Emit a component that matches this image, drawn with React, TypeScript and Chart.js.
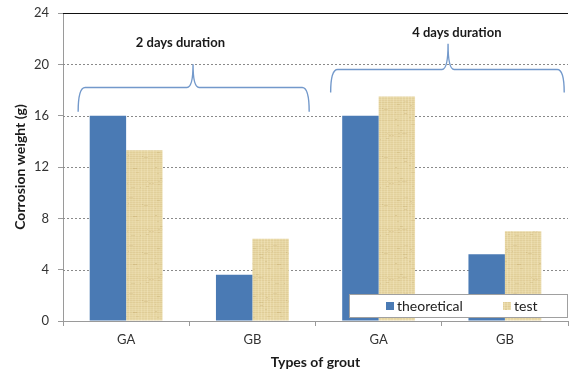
import React, { useEffect, useRef } from "react";
import { Chart, registerables } from "chart.js";

Chart.register(...registerables);

const categories = ["GA", "GB", "GA", "GB"];
const theoretical = [16, 3.6, 16, 5.2];
const test = [13.3, 6.4, 17.5, 7.0];
const seriesNames = ["theoretical", "test"];
const durationLabels = ["2 days duration", "4 days duration"];

const BLUE = "#4a7ab4";
const FONT = "Lato, 'Open Sans', sans-serif";

// Papyrus-like tan texture for the "test" bars
function makeTexture(ctx: CanvasRenderingContext2D): CanvasPattern | string {
  const c = document.createElement("canvas");
  c.width = 48;
  c.height = 48;
  const g = c.getContext("2d");
  if (!g) return "#e6d6a2";
  g.fillStyle = "#e8d8a6";
  g.fillRect(0, 0, 48, 48);
  let s = 7;
  const next = () => {
    s = (s * 1103515245 + 12345) % 2147483648;
    return s / 2147483648;
  };
  for (let y = 0; y < 48; y += 2) {
    g.fillStyle = `rgba(190,160,90,${0.08 + next() * 0.12})`;
    g.fillRect(0, y, 48, 1);
  }
  for (let x = 0; x < 48; x += 3) {
    g.fillStyle = `rgba(255,245,215,${0.1 + next() * 0.2})`;
    g.fillRect(x, 0, 1, 48);
  }
  for (let i = 0; i < 30; i++) {
    g.fillStyle = `rgba(175,145,80,${0.1 + next() * 0.15})`;
    g.fillRect(Math.floor(next() * 48), Math.floor(next() * 48), 1 + Math.floor(next() * 4), 1);
  }
  return ctx.createPattern(c, "repeat") || "#e6d6a2";
}

const overlayPlugin = {
  id: "overlay",
  beforeDatasetsDraw(chart: any) {
    const { ctx, chartArea } = chart;
    const y = chart.scales.y;
    ctx.save();
    // dashed horizontal grid
    ctx.strokeStyle = "#8a8a8a";
    ctx.lineWidth = 1;
    ctx.setLineDash([2, 2]);
    for (let v = 4; v < 24; v += 4) {
      const py = Math.round(y.getPixelForValue(v)) + 0.5;
      ctx.beginPath();
      ctx.moveTo(chartArea.left, py);
      ctx.lineTo(chartArea.right, py);
      ctx.stroke();
    }
    ctx.setLineDash([]);
    // solid top line
    const top = Math.round(y.getPixelForValue(24)) + 0.5;
    ctx.strokeStyle = "#111";
    ctx.beginPath();
    ctx.moveTo(chartArea.left, top);
    ctx.lineTo(chartArea.right, top);
    ctx.stroke();
    ctx.restore();
  },
  afterDatasetsDraw(chart: any) {
    const { ctx, chartArea } = chart;
    const x = chart.scales.x;
    const y = chart.scales.y;
    ctx.save();

    // braces grouping the two durations
    const braces = [
      { from: -0.38, to: 1.45, peak: 0.53, foot: 16.3, bar: 18.2, tip: 20.0 },
      { from: 1.62, to: 3.47, peak: 2.55, foot: 17.8, bar: 19.6, tip: 21.6 },
    ];
    ctx.strokeStyle = "#7399cb";
    ctx.lineWidth = 1.4;
    for (const b of braces) {
      const x0 = x.getPixelForValue(b.from);
      const x1 = x.getPixelForValue(b.to);
      const xm = x.getPixelForValue(b.peak);
      const yf = y.getPixelForValue(b.foot);
      const yb = y.getPixelForValue(b.bar);
      const yt = y.getPixelForValue(b.tip);
      ctx.beginPath();
      ctx.moveTo(x0, yf);
      ctx.quadraticCurveTo(x0, yb, x0 + 7, yb);
      ctx.lineTo(xm - 6, yb);
      ctx.quadraticCurveTo(xm, yb, xm, yt);
      ctx.quadraticCurveTo(xm, yb, xm + 6, yb);
      ctx.lineTo(x1 - 7, yb);
      ctx.quadraticCurveTo(x1, yb, x1, yf);
      ctx.stroke();
    }

    // duration captions
    ctx.fillStyle = "#1a1a1a";
    ctx.font = `bold 13px ${FONT}`;
    ctx.textAlign = "center";
    ctx.textBaseline = "middle";
    ctx.fillText(durationLabels[0], x.getPixelForValue(0.43), y.getPixelForValue(21.7));
    ctx.fillText(durationLabels[1], x.getPixelForValue(2.62), y.getPixelForValue(22.45));

    // legend box in the lower right of the plot
    const lx = chartArea.left + 286;
    const ly = chartArea.bottom - 27;
    const lw = 218;
    const lh = 23;
    ctx.fillStyle = "#fff";
    ctx.fillRect(lx, ly, lw, lh);
    ctx.strokeStyle = "#a0a0a0";
    ctx.lineWidth = 1;
    ctx.strokeRect(Math.round(lx) + 0.5, Math.round(ly) + 0.5, lw, lh);
    const ds = chart.data.datasets;
    const items = [
      { x: lx + 37, fill: ds[0].backgroundColor, text: seriesNames[0] },
      { x: lx + 154, fill: ds[1].backgroundColor, text: seriesNames[1] },
    ];
    ctx.font = `14px ${FONT}`;
    ctx.textAlign = "left";
    for (const it of items) {
      ctx.fillStyle = it.fill;
      ctx.fillRect(it.x, ly + 8, 8, 8);
      ctx.fillStyle = "#222";
      ctx.fillText(it.text, it.x + 11, ly + 12);
    }
    ctx.restore();
  },
};

export default function App() {
  const ref = useRef<HTMLCanvasElement>(null);

  useEffect(() => {
    const canvas = ref.current;
    if (!canvas) return;
    const ctx = canvas.getContext("2d")!;
    const texture = makeTexture(ctx);

    const chart = new Chart(canvas, {
      type: "bar",
      data: {
        labels: categories,
        datasets: [
          {
            label: seriesNames[0],
            data: theoretical,
            backgroundColor: BLUE,
            barPercentage: 1,
            categoryPercentage: 0.577,
          },
          {
            label: seriesNames[1],
            data: test,
            backgroundColor: texture as any,
            barPercentage: 1,
            categoryPercentage: 0.577,
          },
        ],
      },
      options: {
        responsive: false,
        animation: false,
        layout: { padding: { top: 13, right: 1, left: 0, bottom: 0 } },
        plugins: {
          legend: { display: false },
          tooltip: { enabled: false },
        },
        scales: {
          x: {
            offset: true,
            grid: {
              offset: true,
              drawOnChartArea: false,
              drawTicks: true,
              tickLength: 5,
              color: "#9a9a9a",
            },
            border: { color: "#9a9a9a" },
            ticks: {
              color: "#333",
              font: { family: FONT, size: 13 },
              padding: 6,
            },
            title: {
              display: true,
              text: "Types of grout",
              color: "#1a1a1a",
              font: { family: FONT, size: 14, weight: "bold" },
              padding: { top: 0, bottom: 0 },
            },
            afterFit: (s: any) => {
              s.height = 50;
            },
          },
          y: {
            min: 0,
            max: 24,
            ticks: {
              stepSize: 4,
              color: "#333",
              font: { family: FONT, size: 13 },
              padding: 9,
            },
            grid: {
              drawOnChartArea: false,
              drawTicks: true,
              tickLength: 5,
              color: "#9a9a9a",
            },
            border: { color: "#9a9a9a" },
            title: {
              display: true,
              text: "Corrosion weight (g)",
              color: "#1a1a1a",
              font: { family: FONT, size: 14, weight: "bold" },
              padding: { top: 12, bottom: 0 },
            },
            afterFit: (s: any) => {
              s.width = 63;
              s.paddingTop = 0;
              s.paddingBottom = 0;
            },
          },
        },
      },
      plugins: [overlayPlugin],
    });
    return () => chart.destroy();
  }, []);

  return (
    <div style={{ position: "fixed", left: 0, top: 0, width: 569, height: 371, background: "#fff" }}>
      <canvas ref={ref} width={569} height={371} style={{ display: "block" }} />
    </div>
  );
}
